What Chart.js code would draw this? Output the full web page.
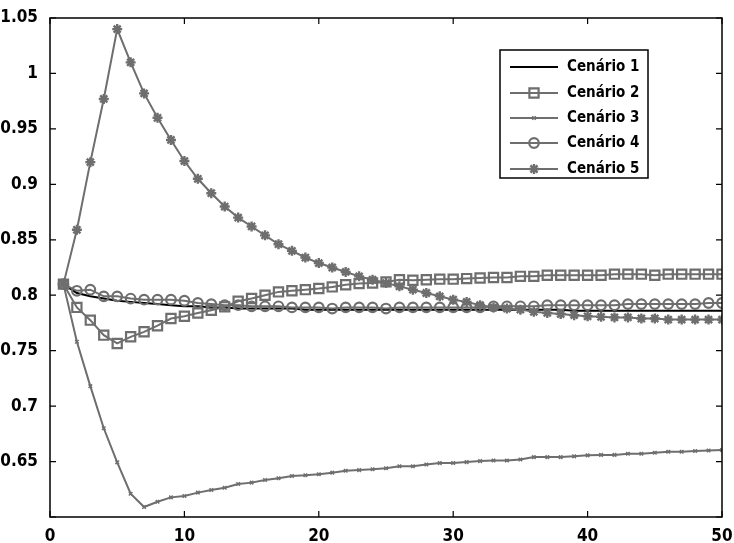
<!DOCTYPE html>
<html>
<head>
<meta charset="utf-8">
<script src="https://cdn.jsdelivr.net/npm/chart.js@4"></script>
<style>
  body { margin: 0; background: #fff; }
  #wrap { width: 734px; height: 543px; position: relative; }
</style>
</head>
<body>
<div id="wrap"><canvas id="chart"></canvas></div>
<script>
const steps = [1,2,3,4,5,6,7,8,9,10,11,12,13,14,15,16,17,18,19,20,21,22,23,24,25,
               26,27,28,29,30,31,32,33,34,35,36,37,38,39,40,41,42,43,44,45,46,47,48,49,50];

const cenario1 = [0.810,0.802,0.799,0.797,0.795,0.794,0.793,0.792,0.791,0.790,
                  0.790,0.789,0.789,0.788,0.788,0.788,0.788,0.788,0.787,0.787,
                  0.787,0.787,0.787,0.787,0.787,0.787,0.787,0.787,0.787,0.787,
                  0.787,0.787,0.787,0.787,0.787,0.787,0.787,0.787,0.786,0.786,
                  0.786,0.786,0.786,0.786,0.786,0.786,0.786,0.786,0.786,0.786];

const cenario2 = [0.810,0.789,0.7775,0.764,0.7565,0.7625,0.767,0.7725,0.779,0.781,
                  0.784,0.7865,0.7895,0.7945,0.797,0.800,0.803,0.804,0.805,0.806,
                  0.8075,0.8095,0.8105,0.811,0.812,0.814,0.8135,0.814,0.8145,0.8145,
                  0.815,0.8155,0.816,0.816,0.817,0.817,0.818,0.818,0.818,0.818,
                  0.818,0.819,0.819,0.819,0.818,0.819,0.819,0.819,0.819,0.819];

const cenario3 = [0.810,0.758,0.718,0.680,0.6493,0.621,0.609,0.6138,0.6177,0.619,
                  0.622,0.6243,0.6264,0.6297,0.631,0.6333,0.6349,0.637,0.6376,0.6385,
                  0.640,0.6417,0.6423,0.643,0.644,0.6457,0.6458,0.6473,0.6486,0.6487,
                  0.6495,0.6504,0.651,0.651,0.6518,0.654,0.654,0.654,0.6547,0.6556,
                  0.656,0.656,0.657,0.657,0.6579,0.6588,0.6588,0.6595,0.660,0.6604];

const cenario4 = [0.810,0.804,0.805,0.799,0.799,0.797,0.796,0.796,0.796,0.795,
                  0.793,0.792,0.791,0.791,0.790,0.790,0.790,0.789,0.789,0.789,
                  0.788,0.789,0.789,0.789,0.788,0.789,0.789,0.789,0.789,0.789,
                  0.789,0.789,0.790,0.790,0.790,0.790,0.791,0.791,0.791,0.791,
                  0.791,0.791,0.792,0.792,0.792,0.792,0.792,0.792,0.793,0.793];

const cenario5 = [0.810,0.859,0.920,0.977,1.040,1.010,0.982,0.960,0.940,0.921,
                  0.905,0.892,0.880,0.870,0.862,0.854,0.846,0.840,0.834,0.829,
                  0.825,0.821,0.817,0.814,0.811,0.808,0.805,0.802,0.799,0.796,
                  0.794,0.791,0.789,0.788,0.787,0.785,0.784,0.783,0.782,0.781,
                  0.7805,0.780,0.780,0.779,0.779,0.778,0.778,0.778,0.778,0.778];

const seriesLabels = ['Cenário 1', 'Cenário 2', 'Cenário 3', 'Cenário 4', 'Cenário 5'];
const xTicks = [0, 10, 20, 30, 40, 50];
const yTicks = [0.65, 0.7, 0.75, 0.8, 0.85, 0.9, 0.95, 1, 1.05];

const FONT = "'DejaVu Sans Condensed', 'Liberation Sans Narrow', sans-serif";
const GRAY = '#6e6e6e';

function pts(arr) {
    return steps.map((s, i) => ({ x: s, y: arr[i] }));
}

const styles = [
    { color: '#000000', point: false, radius: 0, width: 1.5 },
    { color: GRAY, point: 'rect', radius: 6.5, width: 2.2 },
    { color: GRAY, point: 'crossRot', radius: 2.5, width: 1.5 },
    { color: GRAY, point: 'circle', radius: 4.8, width: 2.2 },
    { color: GRAY, point: 'star', radius: 5, width: 2.4 }
];

const allSeries = [cenario1, cenario2, cenario3, cenario4, cenario5];

const datasets = allSeries.map((arr, i) => ({
    label: seriesLabels[i],
    data: pts(arr),
    borderColor: styles[i].color,
    borderWidth: 2,
    pointStyle: styles[i].point,
    pointRadius: styles[i].radius,
    pointBorderColor: styles[i].color,
    pointBorderWidth: styles[i].width,
    pointBackgroundColor: 'rgba(0,0,0,0)',
    order: 4 - i,
    tension: 0
}));

// axes box with inward ticks, like the original figure
const boxPlugin = {
    id: 'boxPlugin',
    afterDatasetsDraw(chart) {
        const { ctx, chartArea: a, scales } = chart;
        ctx.save();
        ctx.strokeStyle = '#000';
        ctx.lineWidth = 1.5;
        ctx.strokeRect(a.left, a.top, a.right - a.left, a.bottom - a.top);
        ctx.lineWidth = 1.2;
        const len = 6;
        ctx.beginPath();
        xTicks.forEach(v => {
            const px = scales.x.getPixelForValue(v);
            ctx.moveTo(px, a.bottom); ctx.lineTo(px, a.bottom - len);
            ctx.moveTo(px, a.top); ctx.lineTo(px, a.top + len);
        });
        [0.6].concat(yTicks).forEach(v => {
            const py = scales.y.getPixelForValue(v);
            ctx.moveTo(a.left, py); ctx.lineTo(a.left + len, py);
            ctx.moveTo(a.right, py); ctx.lineTo(a.right - len, py);
        });
        ctx.stroke();
        ctx.restore();
    }
};

// legend box drawn inside the axes
const legendPlugin = {
    id: 'legendPlugin',
    afterDraw(chart) {
        const { ctx } = chart;
        const box = { x: 500, y: 50, w: 148, h: 128 };
        const rows = [67, 93, 118, 143, 169];
        ctx.save();
        ctx.fillStyle = '#fff';
        ctx.fillRect(box.x, box.y, box.w, box.h);
        ctx.strokeStyle = '#000';
        ctx.lineWidth = 1.5;
        ctx.strokeRect(box.x, box.y, box.w, box.h);
        rows.forEach((y, i) => {
            const st = styles[i];
            ctx.strokeStyle = st.color;
            ctx.lineWidth = 2;
            ctx.beginPath();
            ctx.moveTo(510, y); ctx.lineTo(558, y);
            ctx.stroke();
            if (st.point) {
                ctx.lineWidth = st.width;
                ctx.fillStyle = 'rgba(0,0,0,0)';
                Chart.helpers.drawPoint(ctx, { pointStyle: st.point, radius: st.radius, borderWidth: st.width }, 534, y);
            }
            ctx.fillStyle = '#000';
            ctx.font = 'bold 15px ' + FONT;
            ctx.textAlign = 'left';
            ctx.textBaseline = 'middle';
            ctx.fillText(seriesLabels[i], 567, y);
        });
        ctx.restore();
    }
};

new Chart(document.getElementById('chart'), {
    type: 'line',
    data: { datasets },
    options: {
        responsive: true,
        maintainAspectRatio: false,
        animation: false,
        layout: { padding: { left: 0, right: 12, top: 18, bottom: 0 } },
        plugins: {
            legend: { display: false },
            tooltip: { enabled: false }
        },
        scales: {
            x: {
                type: 'linear',
                min: 0,
                max: 50,
                afterFit: s => { s.height = 26; },
                afterBuildTicks: s => { s.ticks = xTicks.map(v => ({ value: v })); },
                grid: { display: false },
                border: { display: false },
                ticks: {
                    color: '#000',
                    padding: 1,
                    maxRotation: 0,
                    font: { family: FONT, size: 17, weight: 'bold' }
                }
            },
            y: {
                min: 0.6,
                max: 1.05,
                afterFit: s => { s.width = 50; },
                afterBuildTicks: s => { s.ticks = yTicks.map(v => ({ value: v })); },
                grid: { display: false },
                border: { display: false },
                ticks: {
                    color: '#000',
                    padding: 4,
                    font: { family: FONT, size: 17, weight: 'bold' },
                    callback: v => String(Number(v.toFixed(2)))
                }
            }
        }
    },
    plugins: [boxPlugin, legendPlugin]
});
</script>
</body>
</html>
